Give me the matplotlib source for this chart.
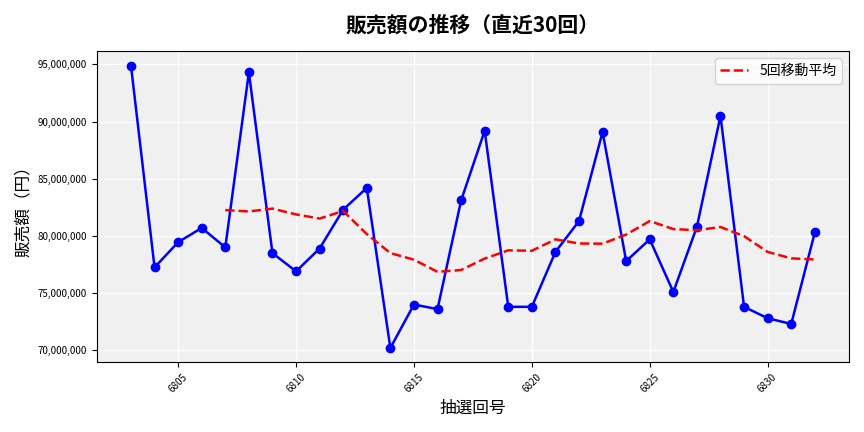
import matplotlib
matplotlib.use("Agg")
import matplotlib.pyplot as plt
import matplotlib.ticker as mt
import pandas as pd

plt.rcParams['font.family'] = ['Noto Sans CJK JP', 'DejaVu Sans']

draws = list(range(6803, 6833))
sales = [94.9, 77.25, 79.45, 80.7, 79.0, 94.3, 78.5, 76.9, 78.9, 82.3,
         84.2, 70.2, 74.0, 73.6, 83.1, 89.2, 73.8, 73.8, 78.6, 81.3,
         89.1, 77.8, 79.7, 75.1, 80.8, 90.5, 73.8, 72.8, 72.3, 80.3]
sales = [v * 1e6 for v in sales]
ma = pd.Series(sales).rolling(5).mean()

fig, ax = plt.subplots(figsize=(8.64, 4.32), dpi=100)
ax.set_facecolor('#f0f0f0')
ax.grid(True, color='white', linewidth=1)
ax.set_axisbelow(True)
ax.plot(draws, sales, color='blue', marker='o', markersize=6, linewidth=1.8)
ax.plot(draws, ma, color='red', linestyle='--', linewidth=1.8, label='5回移動平均')
ax.set_title('販売額の推移（直近30回）', fontsize=15, fontweight='bold', pad=14)
ax.set_xlabel('抽選回号', fontsize=12)
ax.set_ylabel('販売額（円）', fontsize=12)
ax.xaxis.set_major_locator(mt.MultipleLocator(5))
ax.yaxis.set_major_formatter(mt.FuncFormatter(lambda v, p: f'{int(v):,}'))
ax.tick_params(axis='x', labelrotation=45, labelsize=7)
ax.tick_params(axis='y', labelsize=7)
ax.legend(loc='upper right', fontsize=10)
fig.tight_layout()
fig.savefig('out.png')
